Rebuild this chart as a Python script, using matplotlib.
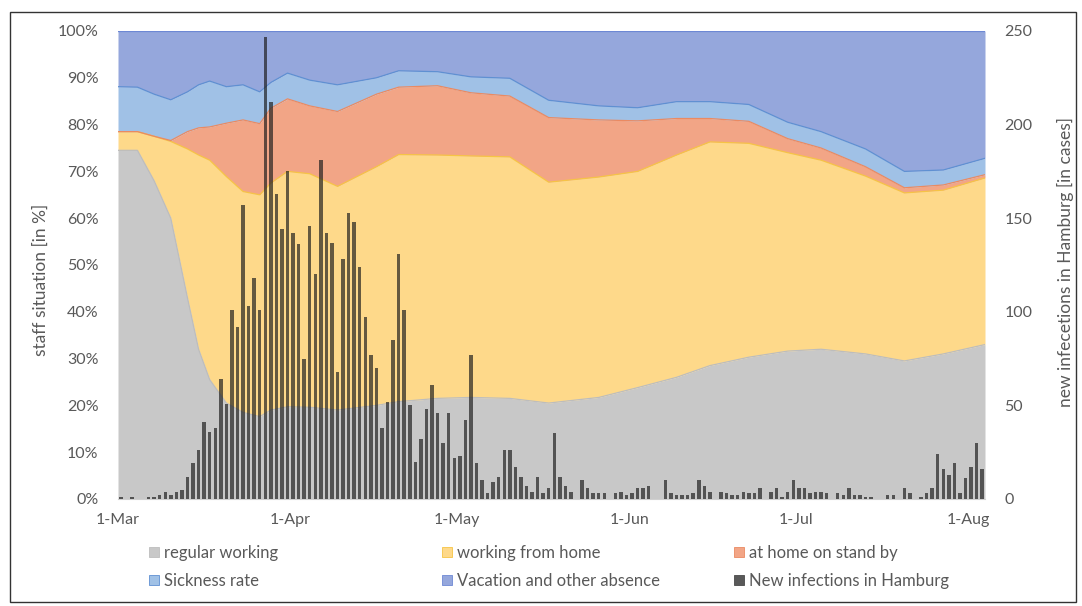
import numpy as np
import matplotlib
matplotlib.use('Agg')
from matplotlib import pyplot as plt
from matplotlib.patches import Patch, Rectangle

# survey points (day position, 0 = 1-Mar) for the staff situation, values in %
survey_pos = [0, 3.5, 6.5, 9.5, 12.5, 14.5, 16.5, 19.5, 22.5, 25.5, 27.5, 30.5, 34.5, 39.5, 46.5, 50.5,
              57.5, 63.5, 70.5, 77.5, 86.5, 93.5, 100.5, 106.5, 113.5, 120.5, 126.5, 134.5, 141.5, 148.5, 156]
regular = [74.5, 74.5, 68.0, 60.0, 43.0, 32.0, 25.5, 20.5, 18.5, 17.6, 19.0, 19.7, 19.6, 19.0, 20.0, 20.8,
           21.5, 21.7, 21.5, 20.5, 21.7, 23.8, 26.0, 28.5, 30.3, 31.6, 32.0, 31.0, 29.5, 31.0, 33.0]
home = [4.0, 4.0, 9.5, 16.4, 31.8, 41.5, 46.9, 48.4, 47.2, 47.4, 48.5, 50.3, 49.9, 47.8, 51.0, 52.8,
        52.0, 51.6, 51.6, 47.2, 47.1, 46.2, 47.5, 47.8, 45.7, 42.4, 40.4, 38.0, 35.9, 35.0, 35.6]
standby = [0.0, 0.0, 0.0, 0.2, 3.7, 5.8, 7.1, 11.4, 15.3, 15.2, 16.0, 15.5, 14.5, 16.0, 15.5, 14.4,
           14.8, 13.5, 13.0, 13.8, 12.2, 10.8, 7.8, 5.0, 4.7, 3.0, 2.6, 2.0, 1.1, 1.1, 0.7]
sick = [9.6, 9.5, 9.0, 8.7, 8.5, 9.2, 9.8, 7.8, 7.5, 6.8, 5.5, 5.5, 5.5, 5.7, 3.5, 3.5,
        3.0, 3.4, 3.8, 3.7, 3.0, 2.8, 3.6, 3.6, 3.6, 3.5, 3.5, 3.8, 3.5, 3.2, 3.5]
vacation = [11.9, 12.0, 13.5, 14.7, 13.0, 11.5, 10.7, 11.9, 11.5, 13.0, 11.0, 9.0, 10.5, 11.5, 10.0, 8.5,
            8.7, 9.8, 10.1, 14.8, 16.0, 16.4, 15.1, 15.1, 15.7, 19.5, 21.5, 25.2, 30.0, 29.7, 27.2]

# new infections in Hamburg, daily from 1-Mar to 3-Aug
new_cases = [1, 0, 1, 0, 0, 1, 1, 2, 4, 2,
             4, 5, 12, 19, 26, 41, 36, 38, 64, 51,
             101, 92, 157, 103, 118, 101, 247, 212, 163, 144,
             175, 142, 136, 75, 146, 120, 181, 142, 137, 68,
             128, 153, 148, 124, 97, 77, 70, 38, 52, 85,
             131, 101, 50, 20, 32, 48, 61, 46, 30, 46,
             22, 23, 42, 77, 19, 10, 3, 9, 12, 26,
             26, 17, 12, 7, 4, 12, 3, 6, 35, 12,
             7, 4, 0, 10, 6, 3, 3, 3, 0, 3,
             4, 2, 3, 6, 6, 7, 0, 0, 10, 3,
             2, 2, 2, 3, 10, 7, 4, 0, 4, 3,
             2, 2, 4, 3, 3, 6, 0, 4, 6, 1,
             4, 10, 6, 6, 3, 4, 4, 3, 0, 3,
             2, 6, 2, 2, 1, 1, 0, 0, 2, 2,
             0, 6, 3, 0, 1, 3, 6, 24, 16, 13,
             19, 3, 11, 17, 30, 16]

month_pos = [0, 31, 61, 92, 122, 153]
month_labels = ['1-Mar', '1-Apr', '1-May', '1-Jun', '1-Jul', '1-Aug']

fills = ['#c8c8c8', '#fed98a', '#f2a586', '#a0c1e6', '#95a7dc']
edges = ['#bdbdbd', '#f6c445', '#ea8a62', '#5f90d2', '#6d88d4']
names = ['regular working', 'working from home', 'at home on stand by', 'Sickness rate',
         'Vacation and other absence']
txt = '#595959'
tfont = ['Lato', 'DejaVu Sans']

fig = plt.figure(figsize=(10.82, 6.06), dpi=100)
ax = fig.add_axes([118 / 1082, 1 - 499 / 606, (985 - 118) / 1082, (499 - 31) / 606])

stack = np.cumsum(np.array([regular, home, standby, sick, vacation]), axis=0)
lower = np.zeros(len(survey_pos))
for i in range(5):
    ax.fill_between(survey_pos, lower, stack[i], color=fills[i], lw=0, zorder=1)
    ax.plot(survey_pos, stack[i], color=edges[i], lw=0.9, zorder=2)
    lower = stack[i]

ax.set_xlim(0, 156)
ax.set_ylim(0, 100)
ax.set_yticks(np.arange(0, 101, 10))
ax.set_yticklabels([f'{v}%' for v in range(0, 101, 10)], family=tfont)
ax.set_xticks(month_pos)
ax.set_xticklabels(month_labels, family=tfont)
ax.tick_params(axis='y', length=0, pad=14, labelsize=11.5, labelcolor=txt)
ax.tick_params(axis='x', length=0, pad=10, labelsize=11.5, labelcolor=txt)
for s in ['top', 'left', 'right']:
    ax.spines[s].set_visible(False)
ax.spines['bottom'].set_color('#d0d0d0')

ax2 = ax.twinx()
ax2.bar(np.arange(len(new_cases)) + 0.5, new_cases, width=0.62, color='#1c1c1c', alpha=0.68, lw=0, zorder=3)
ax2.set_ylim(0, 250)
ax2.set_yticks(np.arange(0, 251, 50))
ax2.set_yticklabels([str(v) for v in range(0, 251, 50)], family=tfont)
ax2.tick_params(axis='y', length=0, pad=14, labelsize=11.5, labelcolor=txt)
for s in ['top', 'left', 'right', 'bottom']:
    ax2.spines[s].set_visible(False)

fig.text(41 / 1082, 1 - 280 / 606, 'staff situation [in %]', rotation=90, ha='center', va='center',
         fontsize=12.5, color=txt, family=tfont)
fig.text(1065 / 1082, 1 - 262 / 606, 'new infecetions in Hamburg [in cases]', rotation=90, ha='center',
         va='center', fontsize=12.5, color=txt, family=tfont)

# legend: three columns of two rows
h = [Patch(facecolor=fills[i], edgecolor=edges[i], lw=0.6, label=names[i]) for i in range(5)]
h.append(Patch(facecolor='#595959', edgecolor='#4a4a4a', lw=0.6, label='New infections in Hamburg'))
cols = [[h[0], h[3]], [h[1], h[4]], [h[2], h[5]]]
for k, xc in enumerate([149, 442, 734]):
    fig.legend(handles=cols[k], loc='upper left', bbox_to_anchor=(xc / 1082, 1 - 545 / 606), frameon=False,
               prop={'family': tfont, 'size': 12}, labelcolor=txt, handlelength=0.6, handleheight=0.6,
               handletextpad=0.3, labelspacing=0.72, borderaxespad=0, borderpad=0)

fig.patches.append(Rectangle((10 / 1082, 1 - 602 / 606), 1066 / 1082, 590 / 606, transform=fig.transFigure,
                             fill=False, edgecolor='#333333', lw=1))

plt.savefig('out.png', dpi=100)
